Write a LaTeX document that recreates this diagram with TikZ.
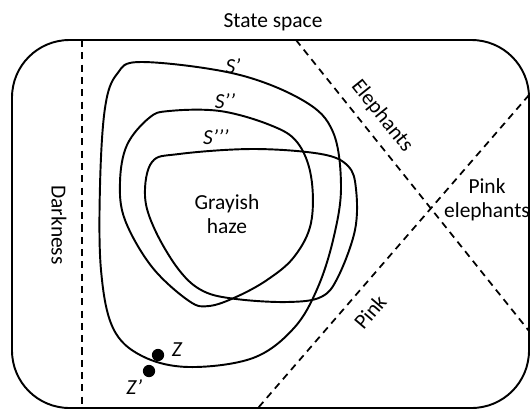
\documentclass[tikz,border=0pt]{standalone}
\usepackage{fontspec}
\setsansfont{Carlito}
\usepackage{tikz}
\usetikzlibrary{positioning}

\begin{document}
\begin{tikzpicture}[
  x=0.02cm,y=-0.02cm,
  font=\sffamily\fontsize{12.2}{13.6}\selectfont,
  frame/.style={draw=black,line width=1.1pt,rounded corners=1.15cm},
  border/.style={draw=black,line width=1pt,dash pattern=on 4pt off 3pt},
  region/.style={draw=black,line width=1.1pt},
  label/.style={inner sep=1pt,align=center},
  dot/.style={circle,fill=black,inner sep=0pt,minimum size=7pt}
]
\useasboundingbox (0,0) rectangle (530,410);
\node[label] (title) at (273,22) {State space};
\draw[frame] (12,40) rectangle (529,408);

\coordinate (dtop) at (82,40);
\coordinate (dbot) at (82,408);
\coordinate (etop) at (296,40);
\coordinate (ebot) at (529,331);
\coordinate (ptop) at (529,95);
\coordinate (pbot) at (258,408);
\draw[border] (dtop) -- (dbot);
\draw[border] (etop) -- (ebot);
\draw[border] (ptop) -- (pbot);

\node[label,rotate=-90] (dark) at (59,225) {Darkness};
\node[label,rotate=-51.3] (eleph) at (382,116) {Elephants};
\node[label,rotate=49.5] (pink) at (370,312) {Pink};
\node[label] (pinkeleph) at (487,200) {Pink\\elephants};

\draw[region] plot[smooth cycle,tension=0.6] coordinates {
  (142,62) (236,74) (304,101) (333,132) (341,186) (334,236) (318,287)
  (294,328) (253,358) (189,367) (142,356) (113,328) (101,270) (100,186)
  (105,108) (117,74)};
\draw[region] plot[smooth cycle,tension=0.6] coordinates {
  (169,111) (220,111) (270,125) (297,142) (311,176) (311,223) (294,257)
  (267,280) (236,297) (209,306) (189,301) (152,267) (125,220) (120,182)
  (127,145) (149,118)};
\draw[region] plot[smooth cycle,tension=0.6] coordinates {
  (152,162) (179,154) (253,149) (321,154) (348,166) (356,189) (355,230)
  (338,277) (321,297) (287,302) (236,299) (203,291) (179,270) (155,230)
  (145,196)};

\node[label] (s1) at (233,66) {\textit{S’}};
\node[label] (s2) at (225,101) {\textit{S’’}};
\node[label] (s3) at (216,137) {\textit{S’’’}};
\node[label] (haze) at (227,214) {Grayish\\haze};

\node[dot] (z) at (158,355) {};
\node[label,right=3pt of z,yshift=3pt] (zlab) {\textit{Z}};
\node[dot] (zp) at (149,371) {};
\node[label,below left=1pt and 0pt of zp] (zplab) {\textit{Z’}};
\end{tikzpicture}
\end{document}
